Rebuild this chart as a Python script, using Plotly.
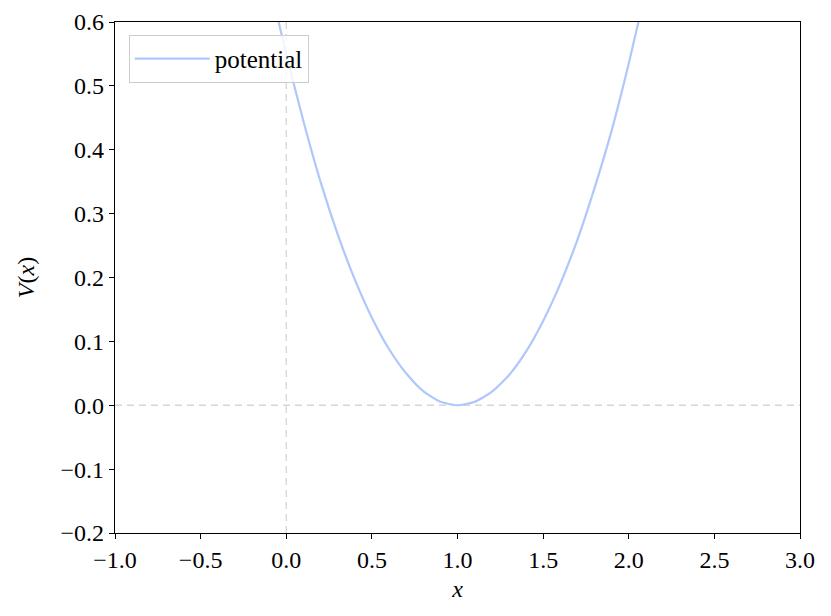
import plotly.graph_objects as go

# Values
x_values = [-0.08, -0.04, 0.0, 0.1, 0.2, 0.3, 0.4, 0.5, 0.6, 0.7, 0.8, 0.9, 1.0,
            1.1, 1.2, 1.3, 1.4, 1.5, 1.6, 1.7, 1.8, 1.9, 2.0, 2.1]
v_values = [0.64, 0.595, 0.55, 0.445, 0.35, 0.268, 0.197, 0.137, 0.088, 0.050, 0.022, 0.0055, 0.0,
            0.0053, 0.021, 0.047, 0.084, 0.132, 0.19, 0.259, 0.34, 0.43, 0.535, 0.65]

x_tick_vals = [-1.0, -0.5, 0.0, 0.5, 1.0, 1.5, 2.0, 2.5, 3.0]
x_tick_text = ["\u22121.0", "\u22120.5", "0.0", "0.5", "1.0", "1.5", "2.0", "2.5", "3.0"]
y_tick_vals = [-0.2, -0.1, 0.0, 0.1, 0.2, 0.3, 0.4, 0.5, 0.6]
y_tick_text = ["\u22120.2", "\u22120.1", "0.0", "0.1", "0.2", "0.3", "0.4", "0.5", "0.6"]

FONT = "Liberation Serif"
FS = 24

fig = go.Figure()
fig.add_hline(y=0, line=dict(color="rgb(214,214,214)", width=1.3, dash="7px,5px"), layer="below")
fig.add_vline(x=0, line=dict(color="rgb(214,214,214)", width=1.3, dash="7px,5px"), layer="below")

fig.add_trace(go.Scatter(
    x=x_values, y=v_values, mode="lines", name="potential",
    line=dict(color="rgb(176,199,252)", width=2.2, shape="spline", smoothing=0.6),
))

axis_common = dict(
    showgrid=False, zeroline=False, showline=True, mirror=True,
    linecolor="black", linewidth=1.2, ticks="outside", ticklen=5,
    tickwidth=1.2, tickcolor="black", automargin=False,
    tickfont=dict(family=FONT, size=FS, color="black"),
)

fig.update_layout(
    width=831, height=616,
    margin=dict(l=107, r=39, t=14, b=91, autoexpand=False),
    paper_bgcolor="white", plot_bgcolor="white",
    font=dict(family=FONT, size=FS, color="black"),
    showlegend=True,
    legend=dict(
        x=0.02, y=0.975, xanchor="left", yanchor="top",
        bgcolor="rgba(255,255,255,0.8)", bordercolor="rgb(204,204,204)", borderwidth=1,
        font=dict(family=FONT, size=25, color="black"),
        itemwidth=75,
    ),
    xaxis=dict(range=[-1.0, 3.0], tickvals=x_tick_vals, ticktext=x_tick_text,
               title=dict(text="<i>x</i>", standoff=8, font=dict(family=FONT, size=FS)),
               **axis_common),
    yaxis=dict(range=[-0.2, 0.6], tickvals=y_tick_vals, ticktext=y_tick_text,
               title=dict(text="<i>V</i>(<i>x</i>)", standoff=19, font=dict(family=FONT, size=FS)),
               **axis_common),
)

fig.write_html("out.html")
